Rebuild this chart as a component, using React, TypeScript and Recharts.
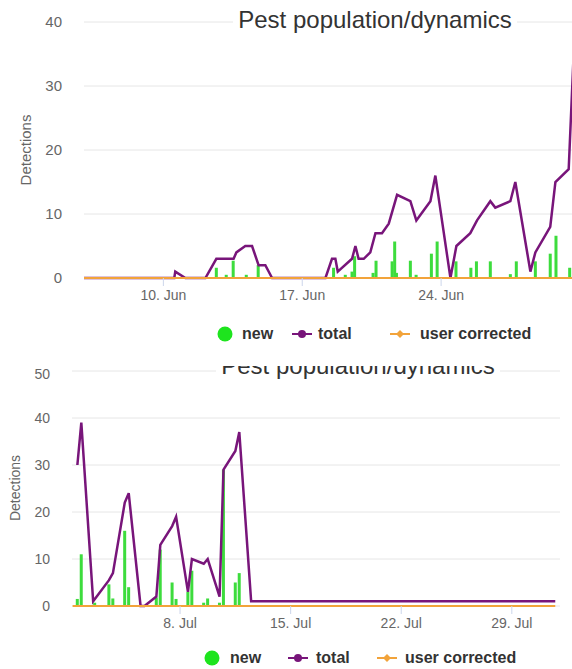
import React from "react";
import { ComposedChart, Bar, Line, XAxis, YAxis, CartesianGrid } from "recharts";

// ---- June panel (top) ----
const junTotalDays = [6, 10.55, 10.6, 11.11, 12.12, 12.67, 13.54, 13.68, 14.13, 14.47, 14.8, 15.14, 15.48, 18.17, 18.5, 18.67, 18.79, 19.51, 19.68, 19.84, 20.1, 20.43, 20.69, 21.02, 21.36, 21.78, 22.45, 22.75, 23.46, 23.71, 24.47, 24.77, 25.47, 25.81, 26.48, 26.73, 27.49, 27.74, 28.5, 28.75, 29.5, 29.76, 30.43, 30.75];
const junTotal = [0, 0, 1, 0, 0, 3, 3, 4, 5, 5, 2, 2, 0, 0, 3, 3, 1, 3, 5, 3, 3, 4, 7, 7, 8.5, 13, 12, 9, 12, 16, 0, 5, 7, 9, 12, 11, 12, 15, 1, 4, 8, 15, 17, 40];
const junNewDays = [12.67, 13.17, 13.52, 14.18, 14.78, 18.58, 19.17, 19.51, 19.64, 20.57, 20.72, 21.53, 21.66, 21.75, 22.45, 22.74, 23.51, 23.8, 24.75, 25.5, 25.78, 26.48, 27.49, 27.79, 28.75, 29.5, 29.79, 30.48];
const junNew = [1.6, 0.5, 2.7, 0.5, 2, 1.6, 0.5, 1, 3.4, 0.8, 2.7, 2.6, 5.7, 0.8, 2.7, 0.5, 3.8, 5.7, 2.6, 1.6, 2.6, 2.6, 0.6, 2.6, 2.6, 3.8, 6.6, 1.6];
const junCorrectedDays = [6, 31];
const junCorrected = [0, 0];
const junTicks = [10, 17, 24];

// ---- July panel (bottom) ----
const julTotalDays = [1.5, 1.75, 2.5, 3.5, 3.75, 4.5, 4.75, 5.5, 5.75, 6.5, 6.75, 7.5, 7.75, 8.5, 8.75, 9.5, 9.75, 10.5, 10.75, 11.5, 11.75, 12.5, 31.75];
const julTotal = [30, 39, 1, 5.5, 7, 22, 24, 0, 0, 2, 13, 17, 19, 3, 10, 9, 10, 2, 29, 33, 37, 1, 1];
const julNewDays = [1.5, 1.75, 2.6, 3.5, 3.75, 4.5, 4.75, 6.5, 6.75, 7.5, 7.75, 8.5, 8.75, 9.5, 9.75, 10.5, 10.75, 11.5, 11.75];
const julNew = [1.5, 11, 0.7, 4.6, 1.6, 16, 4, 1.8, 12, 5, 1.5, 3, 7.5, 0.7, 1.6, 0.7, 29, 5, 7];
const julCorrectedDays = [1.2, 31.75];
const julCorrected = [0, 0];
const julTicks = [8, 15, 22, 29];

const GREEN = "#3ddc3d";
const PURPLE = "#78157a";
const ORANGE = "#f2a33a";
const FONT = "'Liberation Sans', Arial, sans-serif";

const rows = (days: number[], vals: number[], key: string) =>
    days.map((day, i) => ({ day, [key]: vals[i] }));

const thinBar = (p: any) => {
    if (p.x == null || isNaN(p.x)) return null;
    return <rect x={p.x + p.width / 2 - 1.5} y={p.y} width={3} height={Math.max(p.height, 0)} fill={GREEN} />;
};

interface PanelProps {
    width: number;
    height: number;
    top: number;
    right: number;
    yWidth: number;
    xDomain: [number, number];
    xTicks: number[];
    month: string;
    yMax: number;
    newRows: any[];
    totalRows: any[];
    correctedRows: any[];
    tickFont: number;
    yTickFont: number;
}

function Panel(p: PanelProps) {
    const yTicks: number[] = [];
    for (let v = 0; v <= p.yMax; v += 10) yTicks.push(v);
    return (
        <ComposedChart width={p.width} height={p.height} data={p.newRows}
            margin={{ top: p.top, right: p.right, bottom: 0, left: 0 }}>
            <CartesianGrid vertical={false} stroke="#e6e6e6" />
            <XAxis type="number" dataKey="day" domain={p.xDomain} ticks={p.xTicks} interval={0}
                height={40} tickSize={8} tickMargin={4}
                tickFormatter={(d: number) => `${d}. ${p.month}`}
                tick={{ fill: "#666", fontSize: p.tickFont }}
                tickLine={{ stroke: "#ccd6eb" }} axisLine={false} />
            <YAxis type="number" domain={[0, p.yMax]} ticks={yTicks} width={p.yWidth}
                axisLine={false} tickLine={false} tickSize={0} tickMargin={22}
                tick={{ fill: "#666", fontSize: p.yTickFont }} />
            <Bar dataKey="new" barSize={3} fill={GREEN} shape={thinBar} isAnimationActive={false} />
            <Line data={p.totalRows} dataKey="total" type="linear" stroke={PURPLE} strokeWidth={2.5}
                dot={false} isAnimationActive={false} />
            <Line data={p.correctedRows} dataKey="corrected" type="linear" stroke={ORANGE} strokeWidth={2}
                dot={false} isAnimationActive={false} />
        </ComposedChart>
    );
}

function LegendRow({ cy, xs }: { cy: number; xs: number[] }) {
    const item = (left: number, child: React.ReactNode) => (
        <div style={{ position: "absolute", left, top: cy - 10, height: 20, display: "flex", alignItems: "center" }}>
            {child}
        </div>
    );
    const label = (t: string) => (
        <span style={{ fontSize: 16, fontWeight: 700, color: "#333", whiteSpace: "nowrap" }}>{t}</span>
    );
    return (
        <>
            {item(xs[0], <svg width={16} height={16}><circle cx={8} cy={8} r={7.5} fill="#1ee41e" /></svg>)}
            {item(xs[1], label("new"))}
            {item(xs[2],
                <svg width={20} height={10}>
                    <line x1={0} y1={5} x2={20} y2={5} stroke={PURPLE} strokeWidth={2} />
                    <circle cx={10} cy={5} r={4} fill={PURPLE} />
                </svg>)}
            {item(xs[3], label("total"))}
            {item(xs[4],
                <svg width={20} height={10}>
                    <line x1={0} y1={5} x2={20} y2={5} stroke={ORANGE} strokeWidth={2} />
                    <path d="M10 1 L14 5 L10 9 L6 5 Z" fill={ORANGE} />
                </svg>)}
            {item(xs[5], label("user corrected"))}
        </>
    );
}

function Title({ center, top }: { center: number; top: number }) {
    return (
        <div style={{ position: "absolute", left: center - 300, width: 600, top, textAlign: "center",
            fontSize: 24, lineHeight: "28px", color: "#333" }}>
            <span style={{ background: "#fff", padding: "0 5px" }}>Pest population/dynamics</span>
        </div>
    );
}

function AxisTitle({ x, y, size }: { x: number; y: number; size: number }) {
    return (
        <div style={{ position: "absolute", left: x, top: y, transform: "translate(-50%, -50%) rotate(-90deg)",
            fontSize: size, color: "#666", whiteSpace: "nowrap" }}>
            Detections
        </div>
    );
}

export default function App() {
    return (
        <div style={{ position: "absolute", left: 0, top: 0, width: 572, height: 669, overflow: "hidden",
            background: "#fff", fontFamily: FONT }}>
            {/* top panel */}
            <div style={{ position: "absolute", left: 0, top: 0 }}>
                <Panel width={580} height={318} top={22} right={0} yWidth={84} xDomain={[6, 31]}
                    xTicks={junTicks} month="Jun" yMax={40}
                    newRows={rows(junNewDays, junNew, "new")}
                    totalRows={rows(junTotalDays, junTotal, "total")}
                    correctedRows={rows(junCorrectedDays, junCorrected, "corrected")}
                    tickFont={14} yTickFont={15} />
            </div>
            <Title center={375} top={6} />
            <AxisTitle x={25} y={150} size={15} />
            <LegendRow cy={334} xs={[217, 242, 292, 318, 390, 420]} />

            {/* bottom panel, cropped at its top */}
            <div style={{ position: "absolute", left: 0, top: 366, width: 572, height: 303, overflow: "hidden" }}>
                <div style={{ position: "absolute", left: 0, top: 0 }}>
                    <Panel width={572} height={280} top={5} right={12} yWidth={72} xDomain={[1.16, 32.05]}
                        xTicks={julTicks} month="Jul" yMax={50}
                        newRows={rows(julNewDays, julNew, "new")}
                        totalRows={rows(julTotalDays, julTotal, "total")}
                        correctedRows={rows(julCorrectedDays, julCorrected, "corrected")}
                        tickFont={14} yTickFont={14} />
                </div>
                <Title center={358} top={-14} />
                <AxisTitle x={15} y={122} size={14} />
                <LegendRow cy={292} xs={[204, 230, 288, 316, 377, 405]} />
            </div>
        </div>
    );
}
